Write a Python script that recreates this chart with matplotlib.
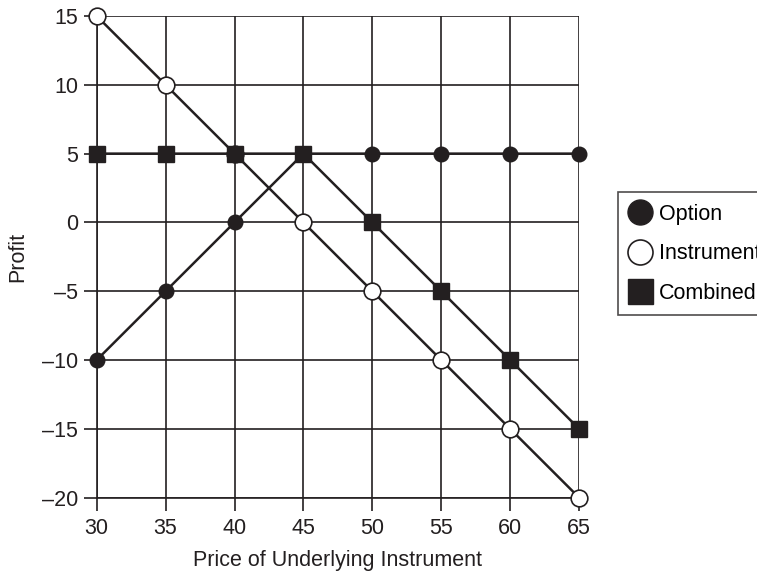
import matplotlib.pyplot as plt
from matplotlib.lines import Line2D

plt.rcParams['font.family'] = ['Liberation Sans', 'DejaVu Sans']

price = [30, 35, 40, 45, 50, 55, 60, 65]
option = [-10, -5, 0, 5, 5, 5, 5, 5]
instrument = [15, 10, 5, 0, -5, -10, -15, -20]
combined = [5, 5, 5, 5, 0, -5, -10, -15]

ink = '#231f20'
fs = 15.5

fig = plt.figure(figsize=(7.57, 5.72), dpi=100)
ax = fig.add_axes([0.1277, 0.130, 0.6373, 0.842])

ax.grid(True, color=ink, linewidth=1.2)
ax.set_axisbelow(True)

# lines + markers, draw order matters for overlaps
ax.plot(price, option, color=ink, lw=1.8, marker='o', ms=10.5,
        mfc=ink, mec=ink, label='Option', clip_on=False, zorder=3)
ax.plot(price, instrument, color=ink, lw=1.8, marker='o', ms=12,
        mfc='white', mec=ink, mew=1.2, label='Instrument', clip_on=False, zorder=4)
ax.plot(price, combined, color=ink, lw=1.8, marker='s', ms=12,
        mfc=ink, mec=ink, label='Combined', clip_on=False, zorder=5)

ax.set_xlim(30, 65)
ax.set_ylim(-20, 15)
ax.set_xticks(price)
ax.set_yticks(range(-20, 16, 5))
ax.set_yticklabels(['\u201320', '\u201315', '\u201310', '\u20135', '0', '5', '10', '15'])
ax.tick_params(length=9.5, width=1.2, color=ink, labelsize=fs, labelcolor=ink, pad=4)
ax.tick_params(axis='x', pad=5)
for s in ['top', 'right']:
    ax.spines[s].set_visible(False)
for s in ['left', 'bottom']:
    ax.spines[s].set_color(ink)
    ax.spines[s].set_linewidth(1.2)

ax.set_xlabel('Price of Underlying Instrument', fontsize=fs, color=ink, labelpad=8)
ax.set_ylabel('Profit', fontsize=fs, color=ink, labelpad=10)

labels = ['Option', 'Instrument', 'Combined']
handles = [Line2D([], [], ls='none', marker='o', ms=18, mfc=ink, mec=ink),
           Line2D([], [], ls='none', marker='o', ms=18, mfc='white', mec=ink, mew=1.2),
           Line2D([], [], ls='none', marker='s', ms=18, mfc=ink, mec=ink)]
leg = fig.legend(handles, labels, loc='upper left', bbox_to_anchor=(0.816, 0.664),
                 fontsize=fs, frameon=True, fancybox=False, handlelength=1.0,
                 handletextpad=0.35, borderpad=0.55, labelspacing=0.85, borderaxespad=0)
leg.get_frame().set_edgecolor(ink)
leg.get_frame().set_linewidth(1.2)

fig.savefig('out.png', dpi=100)
